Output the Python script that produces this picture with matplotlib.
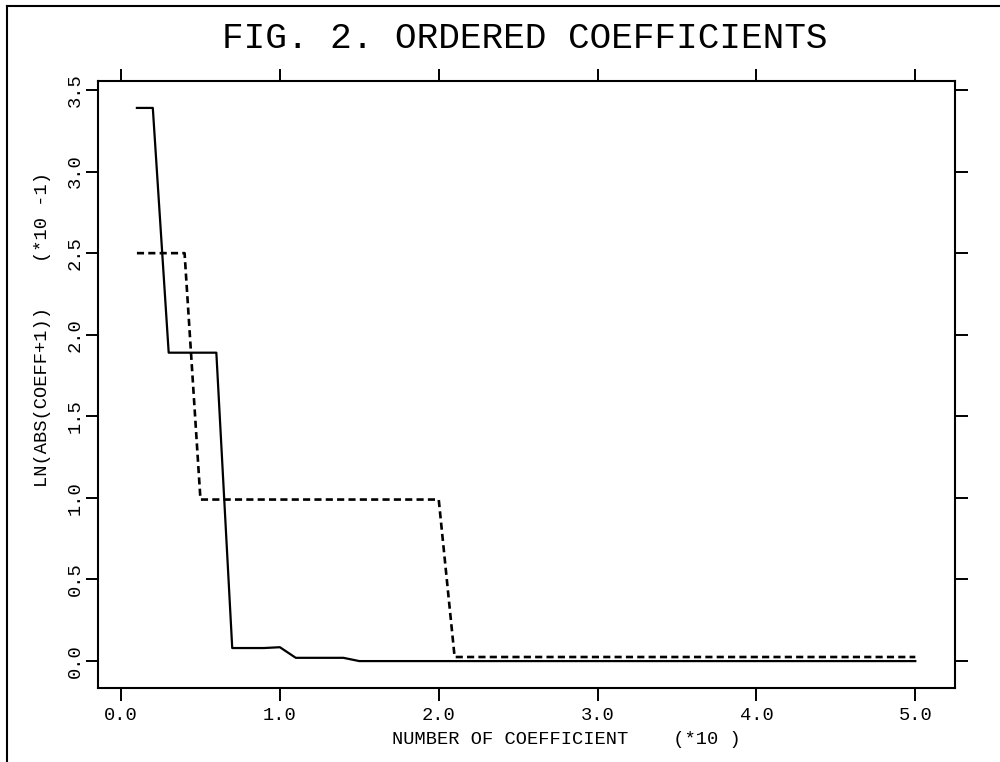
import matplotlib
matplotlib.use("Agg")
import matplotlib.pyplot as plt
from matplotlib.lines import Line2D

# coefficient number (in units of 10)
coef = [0.1, 0.2, 0.3, 0.4, 0.5, 0.6, 0.7, 0.8, 0.9, 1.0,
        1.1, 1.2, 1.3, 1.4, 1.5, 1.6, 1.7, 1.8, 1.9, 2.0,
        2.1, 2.2, 2.3, 2.4, 2.5, 2.6, 2.7, 2.8, 2.9, 3.0,
        3.1, 3.2, 3.3, 3.4, 3.5, 3.6, 3.7, 3.8, 3.9, 4.0,
        4.1, 4.2, 4.3, 4.4, 4.5, 4.6, 4.7, 4.8, 4.9, 5.0]

# LN(ABS(COEFF+1)) in units of 10^-1
solid = [3.39, 3.39, 1.89, 1.89, 1.89, 1.89, 0.08, 0.08, 0.08, 0.085,
         0.02, 0.02, 0.02, 0.02, 0.0, 0.0, 0.0, 0.0, 0.0, 0.0,
         0.0, 0.0, 0.0, 0.0, 0.0, 0.0, 0.0, 0.0, 0.0, 0.0,
         0.0, 0.0, 0.0, 0.0, 0.0, 0.0, 0.0, 0.0, 0.0, 0.0,
         0.0, 0.0, 0.0, 0.0, 0.0, 0.0, 0.0, 0.0, 0.0, 0.0]
dashed = [2.5, 2.5, 2.5, 2.5, 0.99, 0.99, 0.99, 0.99, 0.99, 0.99,
          0.99, 0.99, 0.99, 0.99, 0.99, 0.99, 0.99, 0.99, 0.99, 0.99,
          0.025, 0.025, 0.025, 0.025, 0.025, 0.025, 0.025, 0.025, 0.025, 0.025,
          0.025, 0.025, 0.025, 0.025, 0.025, 0.025, 0.025, 0.025, 0.025, 0.025,
          0.025, 0.025, 0.025, 0.025, 0.025, 0.025, 0.025, 0.025, 0.025, 0.025]

xticks = [0, 1, 2, 3, 4, 5]
xlabels = ["0.0", "1.0", "2.0", "3.0", "4.0", "5.0"]
yticks = [0.0, 0.5, 1.0, 1.5, 2.0, 2.5, 3.0, 3.5]
ylabels = ["0.0", "0.5", "1.0", "1.5", "2.0", "2.5", "3.0", "3.5"]

plt.rcParams['font.family'] = ['Liberation Mono', 'DejaVu Sans Mono']

fig = plt.figure(figsize=(10, 7.62), dpi=100)
ax = fig.add_axes([0.098, 0.0971, 0.857, 0.7966])

ax.plot(coef, solid, color='black', lw=1.6)
ax.plot(coef, dashed, color='black', lw=1.9, linestyle=(0, (2.7, 1.6)))

ax.set_xlim(-0.145, 5.25)
ax.set_ylim(-0.165, 3.555)
ax.set_xticks(xticks)
ax.set_xticklabels(xlabels)
ax.set_yticks(yticks)
ax.set_yticklabels(ylabels, rotation=90, va='center')

for s in ax.spines.values():
    s.set_linewidth(1.5)
ax.tick_params(direction='out', length=9, width=1.4, labelsize=13.5,
               top=True, right=True)
ax.tick_params(axis='x', pad=5)
ax.tick_params(axis='y', pad=1)
ax.tick_params(axis='y', which='major', right=True, labelright=False)

ax.set_xlabel("NUMBER OF COEFFICIENT    (*10 )", fontsize=13.5)
ax.xaxis.set_label_coords(0.546, -0.071)
ax.set_ylabel("LN(ABS(COEFF+1))    (*10 -1)", fontsize=13.5)
ax.yaxis.set_label_coords(-0.055, 0.59)

fig.text(0.525, 1 - 38 / 762, "FIG. 2. ORDERED COEFFICIENTS",
         ha='center', va='center', fontsize=26)

# page frame (left and top edges)
fig.add_artist(Line2D([0.007, 0.007], [0, 1 - 6 / 762], color='black', lw=1.5))
fig.add_artist(Line2D([0.007, 1.0], [1 - 6 / 762, 1 - 6 / 762], color='black', lw=1.5))

fig.savefig("out.png", dpi=100)
